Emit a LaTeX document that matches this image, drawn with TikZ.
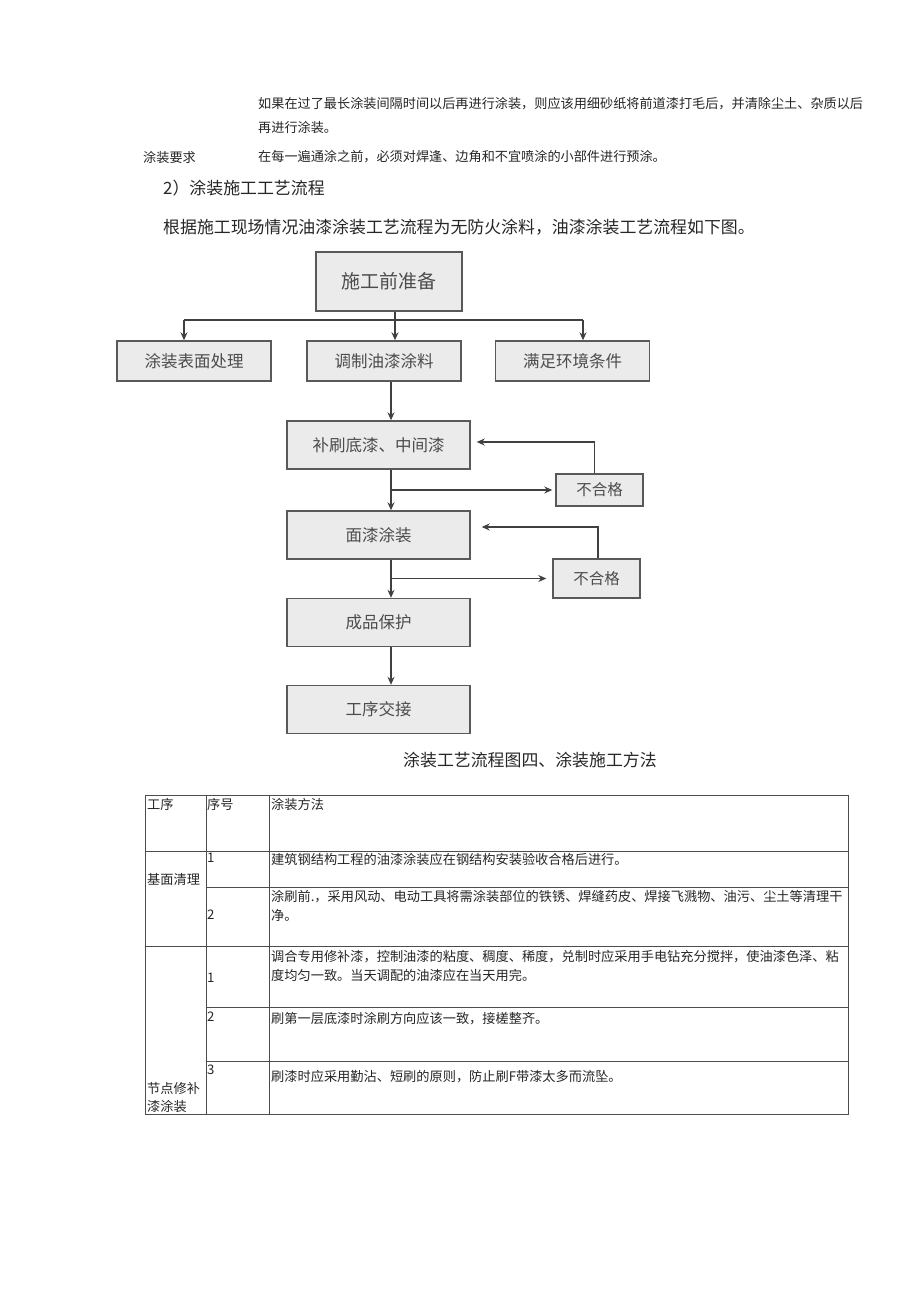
\documentclass[tikz,border=0pt]{standalone}
\usepackage{fontspec}
\setmainfont{Noto Sans CJK SC}
\usetikzlibrary{positioning, arrows, arrows.meta, calc}
\tikzset{
  para/.style={anchor=west, inner sep=0pt, text=black!85, font=\fontsize{13.15}{16}\selectfont}, % running text
  head/.style={anchor=west, inner sep=0pt, text=black!85, font=\fontsize{16.9}{19}\selectfont}, % larger lines
  cell/.style={anchor=west, inner sep=0pt, text=black!85, font=\fontsize{13.2}{16}\selectfont}, % table text
  stepbox/.style={
	draw=black!65, line width=1.4pt, fill=black!8, % grey box with a dark frame
	minimum width=183pt, minimum height=48pt,
	text=black!70, font=\fontsize{16.5}{19}\selectfont,
  },
  midbox/.style={stepbox, minimum width=154pt, minimum height=40pt},
  failbox/.style={stepbox, minimum width=87pt, minimum height=32pt, font=\fontsize{15.5}{18}\selectfont},
  link/.style={
	->, % makes the connectors directed
	>={Stealth[length=8pt, width=7pt]}, % filled arrow heads
	draw=black!75, line width=1.3pt,
  },
  grid/.style={draw=black!70, line width=0.8pt},
}
\begin{document}
\begin{tikzpicture}[x=1pt, y=-1pt]
	  \useasboundingbox[fill=white] (0,0) rectangle (920,1301);
	  % text above the chart
	  \node[para] (l1) at (258,104) {如果在过了最长涂装间隔时间以后再进行涂装，则应该用细砂纸将前道漆打毛后，并清除尘土、杂质以后};
	  \node[para] (l2) at (258,127) {再进行涂装。};
	  \node[para] (req) at (143,157) {涂装要求};
	  \node[para] (reqtxt) at (258,157) {在每一遍通涂之前，必须对焊逢、边角和不宜喷涂的小部件进行预涂。};
	  \node[head] (sec) at (163,188) {2）涂装施工工艺流程};
	  \node[head] (intro) at (163,227) {根据施工现场情况油漆涂装工艺流程为无防火涂料，油漆涂装工艺流程如下图。};
	  % flow chart
	  \node[stepbox, minimum width=146pt, minimum height=59pt, font=\fontsize{19}{22}\selectfont] (prep) at (389,281.5) {施工前准备};
	  \node[midbox] (surf) at (194,361) {涂装表面处理};
	  \node[midbox] (mix) at (384,361) {调制油漆涂料};
	  \node[midbox] (env) at (572.5,361) {满足环境条件};
	  \node[stepbox] (fix) at (378.5,445) {补刷底漆、中间漆};
	  \node[stepbox] (coat) at (378.5,535) {面漆涂装};
	  \node[stepbox] (prot) at (378.5,622.5) {成品保护};
	  \node[stepbox] (hand) at (378.5,709.5) {工序交接};
	  \node[failbox] (fail1) at (599.5,490) {不合格};
	  \node[failbox, minimum height=39pt] (fail2) at (596.5,578.5) {不合格};
	  \coordinate (spine) at (391,0);
	  \coordinate (bar) at (0,320);
	  \draw[link, -] ([xshift=-10pt]surf.north |- bar) -- ([xshift=10.5pt]env.north |- bar);
	  \draw[link] ([xshift=-10pt]surf.north |- bar) -- ([xshift=-10pt]surf.north);
	  \draw[link] ([xshift=10.5pt]env.north |- bar) -- ([xshift=10.5pt]env.north);
	  \draw[link] ([xshift=6pt]prep.south) -- ([xshift=11pt]mix.north);
	  \draw[link] (mix.south -| spine) -- (fix.north -| spine);
	  \draw[link] (fix.south -| spine) -- (coat.north -| spine);
	  \draw[link] (coat.south -| spine) -- (prot.north -| spine);
	  \draw[link] (prot.south -| spine) -- (hand.north -| spine);
	  \draw[link] (fail1.west -| spine) -- ([xshift=-3pt]fail1.west);
	  \draw[link] ([xshift=-5pt]fail1.north) |- ([xshift=6pt,yshift=3pt]fix.east);
	  \draw[link] (fail2.west -| spine) -- ([xshift=-6pt]fail2.west);
	  \draw[link] ([xshift=1.5pt]fail2.north) |- ([xshift=11pt,yshift=8pt]coat.east);
	  \node[head] (cap) at (403,760) {涂装工艺流程图四、涂装施工方法};
	  % table
	  \draw[grid] (145,795) rectangle (848,1114);
	  \draw[grid] (206,795) -- (206,1114);
	  \draw[grid] (269,795) -- (269,1114);
	  \foreach \y in {851,946} \draw[grid] (145,\y) -- (848,\y);
	  \foreach \y in {887,1007,1061} \draw[grid] (206,\y) -- (848,\y);
	  \node[cell] (h1) at (147,804) {工序};
	  \node[cell] (h2) at (207,804) {序号};
	  \node[cell] (h3) at (271,804) {涂装方法};
	  \node[cell] (a0) at (147,879) {基面清理};
	  \node[cell] (a1) at (207,858) {1};
	  \node[cell] (a1t) at (271,859) {建筑钢结构工程的油漆涂装应在钢结构安装验收合格后进行。};
	  \node[cell] (a2) at (207,915) {2};
	  \node[cell] (a2t) at (271,897) {涂刷前.，采用风动、电动工具将需涂装部位的铁锈、焊缝药皮、焊接飞溅物、油污、尘土等清理干};
	  \node[cell] (a2u) at (271,915) {净。};
	  \node[cell] (b0) at (147,1088) {节点修补};
	  \node[cell] (b0u) at (147,1106) {漆涂装};
	  \node[cell] (b1) at (207,978) {1};
	  \node[cell] (b1t) at (271,957) {调合专用修补漆，控制油漆的粘度、稠度、稀度，兑制时应采用手电钻充分搅拌，使油漆色泽、粘};
	  \node[cell] (b1u) at (271,975) {度均匀一致。当天调配的油漆应在当天用完。};
	  \node[cell] (b2) at (207,1017) {2};
	  \node[cell] (b2t) at (271,1019) {刷第一层底漆时涂刷方向应该一致，接槎整齐。};
	  \node[cell] (b3) at (207,1070) {3};
	  \node[cell] (b3t) at (271,1077) {刷漆时应采用勤沾、短刷的原则，防止刷F带漆太多而流坠。};
	  \end{tikzpicture}
\end{document}
